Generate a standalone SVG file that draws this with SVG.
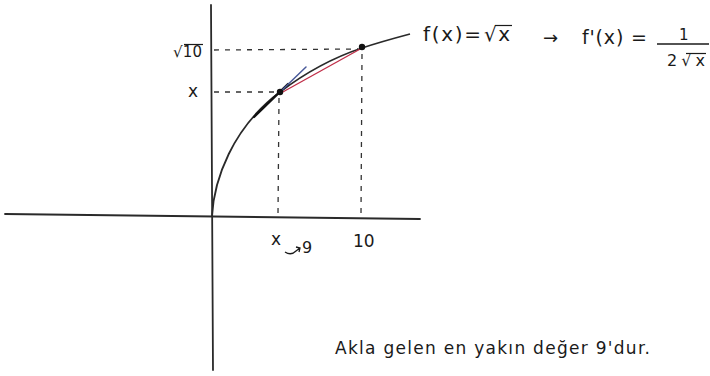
<svg xmlns="http://www.w3.org/2000/svg" width="710" height="376" viewBox="0 0 710 376">
<defs>
<style>
.t{font-family:"DejaVu Sans","Liberation Sans",sans-serif;fill:#1a1a1a}
.ax{stroke:#2a2a2a;stroke-width:1.8;fill:none;stroke-linecap:round}
.dash{stroke:#333;stroke-width:1.3;fill:none;stroke-dasharray:5 6}
.bar{stroke:#1a1a1a;stroke-width:1.2;fill:none}
</style>
</defs>
<rect width="710" height="376" fill="#ffffff"/>
<g id="axes">
<path class="ax" d="M5,214 L420,219"/>
<path class="ax" d="M211,5 L213,370"/>
</g>
<g id="guides">
<path class="dash" d="M214,50 L358,49"/>
<path class="dash" d="M214,92 L277,92"/>
<path class="dash" d="M279,98 L278,214"/>
<path class="dash" d="M362,54 L361,214"/>
</g>
<g id="curve">
<path d="M212,216 C214,180 232,128 280,92 C305,73 335,57 362,48 C380,42 395,38 410,34" stroke="#2a2a2a" stroke-width="1.8" fill="none"/>
</g>
<g id="tangent">
<path d="M254,117 L288,84" stroke="#111" stroke-width="2.4" fill="none" stroke-linecap="round"/>
<path d="M279,93 L306,67" stroke="#4a5a9a" stroke-width="1.5" fill="none" stroke-linecap="round"/>
</g>
<g id="secant">
<path d="M281,93 L362,48" stroke="#c0304a" stroke-width="1.4" fill="none"/>
</g>
<g id="points">
<circle cx="280" cy="92" r="3.2" fill="#111"/>
<circle cx="362" cy="47" r="3.2" fill="#111"/>
</g>
<g id="labels">
<text class="t" x="173" y="57" font-size="15" textLength="29">√10</text>
<path class="bar" d="M184,44.5 L203,44.5"/>
<text class="t" x="188" y="97" font-size="17">x</text>
<text class="t" x="271" y="245" font-size="17">x</text>
<path d="M285,252 Q291,256 296,251 L300,248 M296,247 L300,248 L299,252" stroke="#1a1a1a" stroke-width="1.3" fill="none"/>
<text class="t" x="302" y="253" font-size="16">9</text>
<text class="t" x="353" y="247" font-size="17">10</text>
</g>
<g id="formula">
<text class="t" x="423" y="41" font-size="20" textLength="58">f(x)=</text>
<text class="t" x="484" y="41" font-size="20" textLength="26">√x</text>
<path class="bar" d="M495,25.5 L512,25.5"/>
<text class="t" x="543" y="44" font-size="18" textLength="17">→</text>
<text class="t" x="582" y="44" font-size="19" textLength="65">f'(x) =</text>
<text class="t" x="679" y="40" font-size="15">1</text>
<path d="M657,44 L709,44" stroke="#1a1a1a" stroke-width="1.4"/>
<text class="t" x="667" y="66" font-size="16" textLength="38">2√x</text>
<path class="bar" d="M686,53.5 L706,53.5"/>
</g>
<g id="note">
<text class="t" x="335" y="354" font-size="17" textLength="315">Akla gelen en yakın değer 9'dur.</text>
</g>
</svg>
